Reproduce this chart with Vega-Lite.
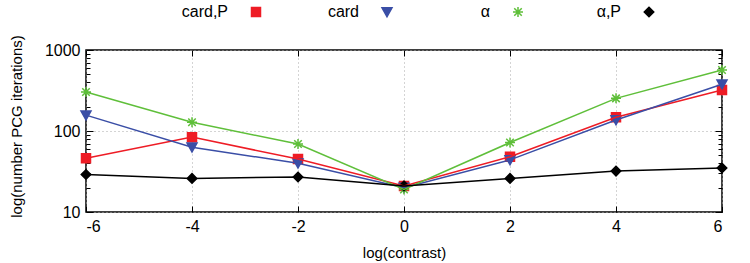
{
  "$schema": "https://vega.github.io/schema/vega-lite/v6.json",
  "autosize": "none",
  "width": 636,
  "height": 162,
  "padding": {"left": 86, "top": 50, "right": 28, "bottom": 51},
  "config": {
    "font": "Liberation Sans",
    "view": {"stroke": "#000000", "strokeWidth": 1.5},
    "axis": {
      "domain": false,
      "tickColor": "#000000",
      "tickWidth": 1,
      "labelColor": "#000000",
      "labelFont": "Liberation Sans",
      "labelFontSize": 16,
      "titleFont": "Liberation Sans",
      "titleFontSize": 15,
      "titleFontWeight": "normal",
      "titleColor": "#000000",
      "gridColor": "#a8a8a8",
      "gridDash": [1, 3],
      "gridWidth": 1
    }
  },
  "data": {
    "values": [
      {"contrast": -6, "iterations": 46, "series": "card,P"},
      {"contrast": -4, "iterations": 84, "series": "card,P"},
      {"contrast": -2, "iterations": 45, "series": "card,P"},
      {"contrast": 0, "iterations": 21, "series": "card,P"},
      {"contrast": 2, "iterations": 48, "series": "card,P"},
      {"contrast": 4, "iterations": 148, "series": "card,P"},
      {"contrast": 6, "iterations": 320, "series": "card,P"},
      {"contrast": -6, "iterations": 157, "series": "card"},
      {"contrast": -4, "iterations": 63, "series": "card"},
      {"contrast": -2, "iterations": 40, "series": "card"},
      {"contrast": 0, "iterations": 20, "series": "card"},
      {"contrast": 2, "iterations": 44, "series": "card"},
      {"contrast": 4, "iterations": 137, "series": "card"},
      {"contrast": 6, "iterations": 377, "series": "card"},
      {"contrast": -6, "iterations": 303, "series": "α"},
      {"contrast": -4, "iterations": 128, "series": "α"},
      {"contrast": -2, "iterations": 69, "series": "α"},
      {"contrast": 0, "iterations": 19, "series": "α"},
      {"contrast": 2, "iterations": 72, "series": "α"},
      {"contrast": 4, "iterations": 253, "series": "α"},
      {"contrast": 6, "iterations": 566, "series": "α"},
      {"contrast": -6, "iterations": 29, "series": "α,P"},
      {"contrast": -4, "iterations": 26, "series": "α,P"},
      {"contrast": -2, "iterations": 27, "series": "α,P"},
      {"contrast": 0, "iterations": 21, "series": "α,P"},
      {"contrast": 2, "iterations": 26, "series": "α,P"},
      {"contrast": 4, "iterations": 32, "series": "α,P"},
      {"contrast": 6, "iterations": 35, "series": "α,P"}
    ]
  },
  "resolve": {"axis": {"x": "independent", "y": "independent"}},
  "layer": [
    {
      "mark": {"type": "point", "filled": true, "size": 100, "strokeWidth": 1.5, "opacity": 1},
      "encoding": {
        "x": {
          "field": "contrast", "type": "quantitative",
          "scale": {"domain": [-6, 6], "nice": false, "zero": false},
          "axis": {
            "orient": "bottom", "values": [-6, -4, -2, 0, 2, 4, 6],
            "labelExpr": "datum.value < 0 ? '-' + abs(datum.value) : '' + datum.value",
            "grid": true, "tickSize": -6, "labelPadding": 12,
            "title": "log(contrast)", "titleX": 318, "titleY": 40,
            "titleBaseline": "middle"
          }
        },
        "y": {
          "field": "iterations", "type": "quantitative",
          "scale": {"type": "log", "domain": [10, 1000], "nice": false},
          "axis": {
            "orient": "left", "values": [10, 100, 1000], "format": "d",
            "grid": true, "tickSize": -7, "labelPadding": 13,
            "title": "log(number PCG iterations)", "titleX": -70, "titleY": 76,
            "titleAngle": -90, "titleAlign": "center", "titleBaseline": "middle"
          }
        },
        "color": {
          "field": "series", "type": "nominal",
          "scale": {
            "domain": ["card,P", "card", "α", "α,P"],
            "range": ["#ee1c25", "#3a4ea6", "#5fbf3a", "#000000"]
          },
          "legend": {
            "orient": "none", "legendX": 162, "legendY": -46,
            "direction": "horizontal", "columns": 4, "title": null,
            "gridAlign": "all", "columnPadding": 63,
            "symbolSize": 100, "symbolStrokeWidth": 1.5,
            "labelFontSize": 16, "labelColor": "#000000", "labelFont": "Liberation Sans",
            "labelAlign": "right", "labelOffset": -36
          }
        },
        "stroke": {
          "field": "series", "type": "nominal",
          "scale": {
            "domain": ["card,P", "card", "α", "α,P"],
            "range": ["#ee1c25", "#3a4ea6", "#5fbf3a", "#000000"]
          },
          "legend": null
        },
        "shape": {
          "field": "series", "type": "nominal",
          "scale": {
            "domain": ["card,P", "card", "α", "α,P"],
            "range": [
              "M-0.9,-0.9L0.9,-0.9L0.9,0.9L-0.9,0.9Z",
              "M-1,-0.85L1,-0.85L0,0.95Z",
              "M-1,0L1,0M0,-1L0,1M-0.75,-0.75L0.75,0.75M-0.75,0.75L0.75,-0.75",
              "M0,-0.95L0.95,0L0,0.95L-0.95,0Z"
            ]
          },
          "legend": {
            "orient": "none", "legendX": 162, "legendY": -46,
            "direction": "horizontal", "columns": 4, "title": null,
            "gridAlign": "all", "columnPadding": 63,
            "symbolSize": 100, "symbolStrokeWidth": 1.5,
            "labelFontSize": 16, "labelColor": "#000000", "labelFont": "Liberation Sans",
            "labelAlign": "right", "labelOffset": -36
          }
        }
      }
    },
    {
      "mark": {"type": "line", "strokeWidth": 1.5},
      "encoding": {
        "x": {
          "field": "contrast", "type": "quantitative",
          "axis": {
            "orient": "top", "values": [-6, -4, -2, 0, 2, 4, 6],
            "labels": false, "grid": false, "tickSize": -6, "title": null
          }
        },
        "y": {
          "field": "iterations", "type": "quantitative",
          "axis": {
            "orient": "left",
            "values": [20, 30, 40, 50, 60, 70, 80, 90, 200, 300, 400, 500, 600, 700, 800, 900],
            "labels": false, "grid": false, "tickSize": -4, "title": null
          }
        },
        "color": {"field": "series", "type": "nominal"}
      }
    },
    {
      "mark": {"type": "point", "opacity": 0},
      "encoding": {
        "x": {"field": "contrast", "type": "quantitative", "axis": null},
        "y": {
          "field": "iterations", "type": "quantitative",
          "axis": {
            "orient": "right", "values": [10, 100, 1000],
            "labels": false, "grid": false, "tickSize": -7, "title": null
          }
        }
      }
    },
    {
      "mark": {"type": "point", "opacity": 0},
      "encoding": {
        "x": {"field": "contrast", "type": "quantitative", "axis": null},
        "y": {
          "field": "iterations", "type": "quantitative",
          "axis": {
            "orient": "right",
            "values": [20, 30, 40, 50, 60, 70, 80, 90, 200, 300, 400, 500, 600, 700, 800, 900],
            "labels": false, "grid": false, "tickSize": -4, "title": null
          }
        }
      }
    }
  ]
}
